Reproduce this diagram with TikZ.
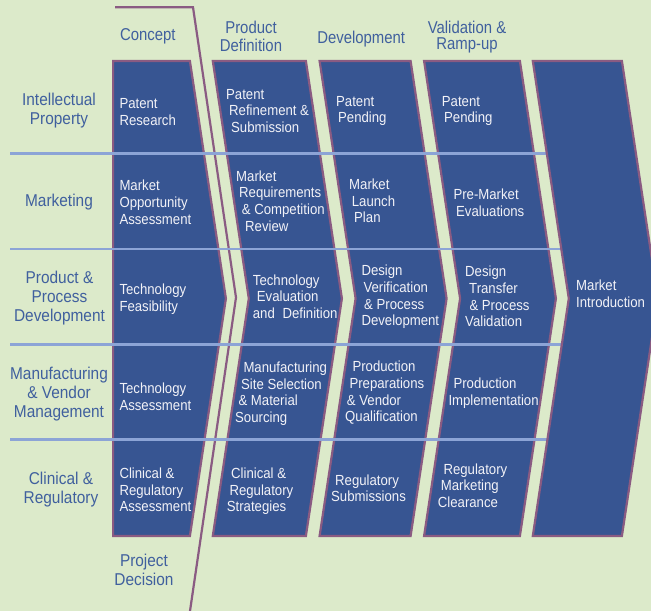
\documentclass[tikz,border=0pt]{standalone}
\usepackage{fontspec}
\setmainfont[FakeStretch=0.87]{Liberation Sans}
\newfontfamily\widerfont[FakeStretch=0.90]{Liberation Sans}
\definecolor{bggreen}{HTML}{DCEACA}
\definecolor{chevblue}{HTML}{375592}
\definecolor{chevborder}{HTML}{8A5B82}
\definecolor{rowblue}{HTML}{8CA4D6}
\definecolor{labblue}{HTML}{40609E}
\definecolor{cellwhite}{HTML}{F2F2F7}
\begin{document}
\begin{tikzpicture}[x=1bp,y=-1bp,
  chev/.style={fill=chevblue, draw=chevborder, line width=2.2bp, line join=miter},
  rowline/.style={draw=rowblue, line width=2.6bp},
  decline/.style={draw=chevborder, line width=2.2bp, line join=miter},
  cell/.style={text=cellwhite, font=\widerfont\fontsize{14.7}{16.7}\selectfont, align=left, inner sep=0pt, anchor=north west, yshift=11.69bp},
  lab/.style={text=labblue, font=\widerfont\fontsize{17.2}{19}\selectfont, align=center, inner sep=0pt, anchor=north, yshift=13.3bp},
  head/.style={text=labblue, font=\fontsize{17.2}{17}\selectfont, align=center, inner sep=0pt, anchor=north, yshift=11.9bp}]
\useasboundingbox (0,0) rectangle (651,611);
\clip (0,0) rectangle (651,611);
\fill[bggreen] (0,0) rectangle (651,611);
% chevrons
\path[chev] (113.1,61.1) -- (189.9,61.1) -- (225.9,298.5) -- (189.9,535.9) -- (113.1,535.9) -- cycle;
\path[chev] (212.8,61.1) -- (305.9,61.1) -- (341.9,298.5) -- (305.9,535.9) -- (212.8,535.9) -- (248.8,298.5) -- cycle;
\path[chev] (319.6,61.1) -- (410.6,61.1) -- (446.6,298.5) -- (410.6,535.9) -- (319.6,535.9) -- (355.6,298.5) -- cycle;
\path[chev] (424.1,61.1) -- (519.9,61.1) -- (555.9,298.5) -- (519.9,535.9) -- (424.1,535.9) -- (460.1,298.5) -- cycle;
% project decision line
\coordinate (d0) at (115,7.3);
\coordinate (d1) at (193,7.3);
\coordinate (d2) at (236,297.5);
\coordinate (d3) at (190,611);
\draw[decline] (d0) -- (d1) -- (d2) -- (d3);
% row lines
\foreach \yy in {153.3,249,344.3,439.5} {\draw[rowline] (10,\yy) -- (600,\yy);}
% market chevron
\path[chev] (532.8,61.1) -- (621.9,61.1) -- (657.9,298.5) -- (621.9,535.9) -- (532.8,535.9) -- (568.8,298.5) -- cycle;
% headers
\node[head] (h1) at (147.8,40.7) {\strut Concept};
\node[head] (h2) at (251,32.3) {\strut Product\\Definition};
\node[head] (h3) at (361.2,42.7) {\strut Development};
\node[head] (h4) at (467,32.3) {\strut Validation \&\\Ramp-up};
% row labels
\node[lab] (r1) at (59,105.5) {\strut Intellectual\\Property};
\node[lab] (r2) at (59,206.7) {\strut Marketing};
\node[lab] (r3) at (59.5,283.5) {\strut Product \&\\Process\\Development};
\node[lab] (r4) at (59,379.5) {\strut Manufacturing\\\& Vendor\\Management};
\node[lab] (r5) at (61,484) {\strut Clinical \&\\Regulatory};
\node[lab] (pd) at (144,566.7) {\strut Project\\Decision};
% cells
\node[cell] (c11) at (119.3,108.3) {\strut Patent\\Research};
\node[cell] (c12) at (226,99) {\strut Patent\\\hspace*{3bp}Refinement \&\\\hspace*{5bp}Submission};
\node[cell] (c13) at (336,106) {\strut Patent\\\hspace*{2bp}Pending};
\node[cell] (c14) at (441.7,106) {\strut Patent\\\hspace*{2.3bp}Pending};
\node[cell] (c21) at (119.3,190.7) {\strut Market\\Opportunity\\Assessment};
\node[cell] (c22) at (236,181) {\strut Market\\\hspace*{3bp}Requirements\\\hspace*{5.7bp}\& Competition\\\hspace*{9bp}Review};
\node[cell] (c23) at (349,189.3) {\strut Market\\\hspace*{2.7bp}Launch\\\hspace*{5bp}Plan};
\node[cell] (c24) at (453.3,199.3) {\strut Pre-Market\\\hspace*{2.7bp}Evaluations};
\node[cell] (c31) at (119.3,294.5) {\strut Technology\\Feasibility};
\node[cell] (c32) at (252.7,285) {\strut Technology\\\hspace*{4bp}Evaluation\\and\hspace{4bp} Definition};
\node[cell] (c33) at (361.3,275.7) {\strut Design\\\hspace*{2bp}Verification\\\hspace*{2.7bp}\& Process\\Development};
\node[cell] (c34) at (465,276.7) {\strut Design\\\hspace*{4bp}Transfer\\\hspace*{4.3bp}\& Process\\Validation};
\node[cell] (c35) at (576,290.7) {\strut Market\\Introduction};
\node[cell] (c41) at (119.3,393.5) {\strut Technology\\Assessment};
\node[cell] (c42) at (235,372.3) {\strut\hspace*{8.3bp}Manufacturing\\\hspace*{6bp}Site Selection\\\hspace*{3.3bp}\& Material\\Sourcing};
\node[cell] (c43) at (345,371.7) {\strut\hspace*{7.3bp}Production\\\hspace*{4.3bp}Preparations\\\hspace*{1.7bp}\& Vendor\\Qualification};
\node[cell] (c44) at (448.3,388.3) {\strut\hspace*{5bp}Production\\Implementation};
\node[cell] (c51) at (119.3,478.3) {\strut Clinical \&\\Regulatory\\Assessment};
\node[cell] (c52) at (226.7,478.3) {\strut\hspace*{4.3bp}Clinical \&\\\hspace*{2.6bp}Regulatory\\Strategies};
\node[cell] (c53) at (331,485) {\strut\hspace*{4bp}Regulatory\\Submissions};
\node[cell] (c54) at (437.7,474) {\strut\hspace*{5.6bp}Regulatory\\\hspace*{3bp}Marketing\\Clearance};
\end{tikzpicture}
\end{document}
